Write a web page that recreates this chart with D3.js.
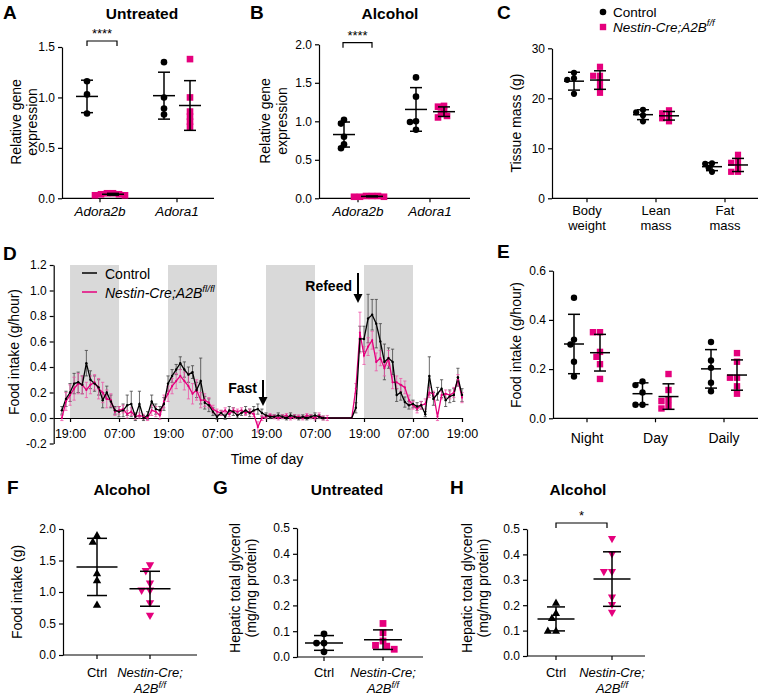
<!DOCTYPE html>
<html><head><meta charset="utf-8">
<script src="https://d3js.org/d3.v7.min.js"></script>
<style>html,body{margin:0;padding:0;background:#fff}svg{display:block}</style>
</head><body>
<svg id="chart" width="760" height="697" xmlns="http://www.w3.org/2000/svg"></svg>
<script>
// ---------------- DATA ----------------
const geneCats = ["Adora2b", "Adora1"];
const untreatedCtrl = [[1.16, 1.03, 0.84], [1.35, 1.0, 0.89, 0.83]];
const untreatedKO = [[0.05, 0.04, 0.03, 0.05, 0.04, 0.03], [1.38, 1.0, 0.86, 0.81, 0.76, 0.71]];
const alcoholCtrl = [[1.02, 0.97, 0.80, 0.70, 0.65], [1.57, 1.32, 1.0, 0.99, 0.89]];
const alcoholKO = [[0.03, 0.02, 0.03, 0.02, 0.03, 0.02], [1.2, 1.19, 1.14, 1.1, 1.07, 1.05]];

const massCats = [["Body", "weight"], ["Lean", "mass"], ["Fat", "mass"]];
const massCtrl = [[25.1, 24.0, 23.7, 20.9], [17.7, 17.2, 16.6, 15.4], [7.0, 6.9, 6.1, 5.3]];
const massKO = [[26.3, 24.5, 24.5, 23.3, 22.2, 21.1], [17.6, 17.0, 16.5, 16.0, 15.4], [8.7, 7.3, 7.1, 6.3, 5.3, 5.3]];

const periodCats = ["Night", "Day", "Daily"];
const periodCtrl = [[0.49, 0.32, 0.30, 0.23, 0.17], [0.15, 0.135, 0.105, 0.055, 0.055], [0.31, 0.235, 0.205, 0.145, 0.11]];
const periodKO = [[0.35, 0.35, 0.27, 0.25, 0.22, 0.16], [0.18, 0.115, 0.075, 0.07, 0.05, 0.04], [0.265, 0.23, 0.165, 0.165, 0.13, 0.1]];

const groupCats = ["Ctrl", "Nestin-Cre;"];
const foodAlcCtrl = [1.9, 1.8, 1.3, 1.19, 0.8];
const foodAlcKO = [1.42, 1.33, 1.13, 1.02, 1.02, 0.82, 0.62];
const tgUntrCtrl = [0.09, 0.054, 0.054, 0.02];
const tgUntrKO = [0.13, 0.094, 0.062, 0.045, 0.042, 0.03];
const tgAlcCtrl = [0.21, 0.17, 0.15, 0.10, 0.10];
const tgAlcKO = [0.46, 0.40, 0.33, 0.33, 0.23, 0.20, 0.17];

// Panel D: hourly food intake, hours from 19:00 of first night
const hours = d3.range(-2, 97);
const ctrlIntake = [
  0.06,0.15,0.20,0.27,0.28,0.26,0.43,0.30,0.27,0.24,0.14,0.20,
  0.13,0.06,0.05,0.06,0.10,0.11,0.01,0.11,0.00,0.02,0.13,0.07,
  0.06,0.11,0.27,0.33,0.38,0.43,0.38,0.34,0.36,0.22,0.29,0.12,
  0.10,0.05,0.01,0.04,0.01,0.06,0.05,0.02,0.04,0.06,0.04,0.06,
  0.07,0.04,0.02,0.01,0.01,0.02,0.01,0.00,0.02,0.01,0.00,0.01,
  0.00,0.01,0.02,0.01,0.00,0.00,0.00,0.00,0.00,0.00,0.00,0.00,
  0.08,0.62,0.62,0.78,0.81,0.74,0.60,0.44,0.47,0.44,0.18,0.20,
  0.125,0.10,0.11,0.09,0.10,0.03,0.33,0.15,0.19,0.23,0.14,0.17,
  0.18,0.32,0.18];
const ctrlSem = [
  0.03,0.06,0.07,0.08,0.08,0.07,0.10,0.07,0.06,0.06,0.06,0.05,
  0.05,0.03,0.04,0.05,0.08,0.10,0.03,0.10,0.02,0.03,0.05,0.04,
  0.03,0.05,0.06,0.05,0.04,0.05,0.06,0.06,0.05,0.06,0.18,0.05,
  0.05,0.03,0.02,0.02,0.02,0.03,0.03,0.02,0.02,0.03,0.03,0.03,
  0.04,0.03,0.02,0.015,0.015,0.02,0.015,0.015,0.02,0.015,0.015,0.015,
  0.015,0.015,0.02,0.015,0.015,null,null,null,null,null,null,null,
  0.04,0.10,0.10,0.19,0.12,0.19,0.14,0.14,0.08,0.10,0.05,0.06,
  0.04,0.03,0.03,0.03,0.03,0.02,0.15,0.05,0.05,0.07,0.05,0.05,
  0.05,0.07,0.05];
const koIntake = [
  0.00,0.13,0.18,0.23,0.27,0.26,0.22,0.26,0.28,0.23,0.20,0.15,
  0.14,0.05,0.06,0.07,0.03,0.05,0.01,0.02,0.01,0.00,0.06,0.05,
  0.02,0.13,0.19,0.25,0.29,0.33,0.29,0.25,0.19,0.22,0.14,0.14,
  0.12,0.07,0.05,0.04,0.06,0.03,0.06,0.05,0.06,0.04,0.05,0.03,
  -0.07,0.00,0.01,0.02,0.01,0.00,0.01,0.02,0.00,0.01,0.01,0.00,
  0.02,0.01,0.00,0.02,0.00,0.00,0.00,0.00,0.00,0.00,0.00,0.00,
  0.23,0.67,0.49,0.56,0.61,0.44,0.47,0.39,0.47,0.28,0.28,0.26,
  0.24,0.14,0.10,0.07,0.10,0.11,0.20,0.19,0.01,0.18,0.19,0.18,
  0.20,0.30,0.16];
const koSem = [
  0.02,0.07,0.08,0.09,0.08,0.07,0.06,0.07,0.06,0.08,0.08,0.07,
  0.05,0.03,0.03,0.03,0.03,0.03,0.02,0.02,0.02,0.02,0.04,0.04,
  0.03,0.05,0.06,0.06,0.06,0.05,0.07,0.10,0.08,0.08,0.06,0.05,
  0.04,0.03,0.02,0.02,0.02,0.02,0.02,0.02,0.02,0.02,0.02,0.02,
  0.04,0.02,0.015,0.015,0.015,0.015,0.015,0.015,0.015,0.015,0.015,0.015,
  0.015,0.015,0.015,0.02,0.015,0.02,null,null,null,null,null,null,
  0.04,0.16,0.07,0.07,0.07,0.07,0.06,0.06,0.06,0.05,0.05,0.05,
  0.05,0.04,0.03,0.03,0.03,0.04,0.04,0.02,0.03,0.03,0.03,0.03,
  0.04,0.04,0.04];
const timeTicks = [0, 12, 24, 36, 48, 60, 72, 84, 96];
const timeLabels = ["19:00","07:00","19:00","07:00","19:00","07:00","19:00","07:00","19:00"];
const darkPeriods = [[0, 12], [24, 36], [48, 60], [72, 84]];
const intakeTicks = [-0.2, 0, 0.2, 0.4, 0.6, 0.8, 1.0, 1.2];

// ---------------- HELPERS ----------------
const FONT = '"Liberation Sans", Arial, Helvetica, sans-serif';
const PINK = "#e5007d";
const svg = d3.select("#chart");

function text(x, y, str, o = {}) {
  const t = svg.append("text").attr("font-family", FONT).attr("font-size", o.size || 13)
    .attr("font-weight", o.weight || "normal").attr("font-style", o.style || "normal")
    .attr("text-anchor", o.anchor || "middle").attr("fill", "#000");
  if (o.rotate) t.attr("transform", `translate(${x},${y}) rotate(-90)`).attr("dy", "0.35em");
  else t.attr("x", x).attr("y", y);
  t.text(str);
  return t;
}
function supText(x, y, base, sup, o = {}) {
  const size = o.size || 13;
  const t = svg.append("text").attr("font-family", FONT).attr("font-size", size)
    .attr("font-style", o.style || "italic").attr("text-anchor", o.anchor || "middle")
    .attr("x", x).attr("y", y).attr("fill", "#000");
  t.append("tspan").text(base);
  t.append("tspan").attr("dy", -size * 0.42).attr("font-size", size * 0.7).text(sup);
  return t;
}
function styleAxis(sel, fs) {
  sel.attr("font-family", FONT).attr("font-size", fs);
  sel.select(".domain").attr("stroke", "#000").attr("stroke-width", 1.2);
  sel.selectAll(".tick line").attr("stroke", "#000").attr("stroke-width", 1.2);
  sel.selectAll(".tick text").attr("fill", "#000");
}
function shape(kind, x, y, s, color) {
  if (kind === "circle") svg.append("circle").attr("cx", x).attr("cy", y).attr("r", s / 2).attr("fill", color);
  else if (kind === "square") svg.append("rect").attr("x", x - s / 2).attr("y", y - s / 2).attr("width", s).attr("height", s).attr("fill", color);
  else if (kind === "up") svg.append("path").attr("d", `M${x},${y - 0.55 * s}L${x + 0.55 * s},${y + 0.42 * s}L${x - 0.55 * s},${y + 0.42 * s}Z`).attr("fill", color);
  else svg.append("path").attr("d", `M${x},${y + 0.55 * s}L${x + 0.55 * s},${y - 0.42 * s}L${x - 0.55 * s},${y - 0.42 * s}Z`).attr("fill", color);
}
function swarm(ys, cx, size, fac, step) {
  const idx = d3.range(ys.length).sort((a, b) => ys[a] - ys[b]);
  const placed = [], xs = [];
  idx.forEach(i => {
    for (let k = 0; k < 40; k++) {
      const off = k === 0 ? 0 : (k % 2 ? -1 : 1) * Math.ceil(k / 2) * step;
      const px = cx + off;
      if (k === 39 || placed.every(p => Math.hypot(p[0] - px, p[1] - ys[i]) >= size * fac)) {
        xs[i] = px; placed.push([px, ys[i]]); break;
      }
    }
  });
  return xs;
}
function dotPanel(o) {
  const y = d3.scaleLinear().domain(o.dom).range([o.yBot, o.yTop]);
  const x = d3.scalePoint().domain(d3.range(o.ncat)).range(o.catRange);
  const ga = svg.append("g").attr("transform", `translate(${o.ax},0)`)
    .call(d3.axisLeft(y).tickValues(o.ticks).tickFormat(o.fmt).tickSize(4).tickSizeOuter(0).tickPadding(3));
  styleAxis(ga, 12);
  svg.append("line").attr("x1", o.ax).attr("x2", o.ax2).attr("y1", o.yBot).attr("y2", o.yBot)
    .attr("stroke", "#000").attr("stroke-width", 1.2);
  d3.range(o.ncat).forEach(i => {
    svg.append("line").attr("x1", x(i)).attr("x2", x(i)).attr("y1", o.yBot).attr("y2", o.yBot + 4)
      .attr("stroke", "#000").attr("stroke-width", 1.2);
    o.label(i, x(i));
  });
  o.groups.forEach(gr => {
    gr.data.forEach((vals, ci) => {
      if (!vals || vals.length === 0) return;
      const cx = x(ci) + gr.off;
      const ys = vals.map(v => y(v));
      const xs = swarm(ys, cx, o.size, o.fac || 0.8, o.step || o.size * 0.55);
      vals.forEach((v, i) => shape(gr.shape, xs[i], ys[i], o.size, gr.color));
      const m = d3.mean(vals), sd = d3.deviation(vals);
      const L = (x1, y1, x2, y2) => svg.append("line").attr("x1", x1).attr("y1", y1).attr("x2", x2).attr("y2", y2)
        .attr("stroke", "#000").attr("stroke-width", 1.5);
      L(cx - o.meanW / 2, y(m), cx + o.meanW / 2, y(m));
      L(cx, y(m - sd), cx, y(m + sd));
      L(cx - o.capW / 2, y(m - sd), cx + o.capW / 2, y(m - sd));
      L(cx - o.capW / 2, y(m + sd), cx + o.capW / 2, y(m + sd));
    });
  });
  return { x, y };
}
function bracket(x1, x2, y, label, ly) {
  svg.append("path").attr("d", `M${x1},${y + 5}V${y}H${x2}V${y + 5}`).attr("fill", "none")
    .attr("stroke", "#000").attr("stroke-width", 1.2);
  text((x1 + x2) / 2, ly, label, { size: 13 });
}
const f1 = d => d.toFixed(1);

// ---------------- PANEL A ----------------
text(3, 19, "A", { size: 19, weight: "bold", anchor: "start" });
text(142, 19, "Untreated", { size: 15.5, weight: "bold" });
text(16, 122, "Relative gene", { size: 14, rotate: true });
text(32, 122, "expression", { size: 14, rotate: true });
dotPanel({ ax: 62, ax2: 214, yTop: 47, yBot: 198.3, dom: [0, 1.5], ticks: [0, 0.5, 1, 1.5], fmt: f1,
  ncat: 2, catRange: [100, 177], size: 6.6, meanW: 22, capW: 12, fac: 0.6, step: 3,
  groups: [{ data: untreatedCtrl, shape: "circle", color: "#000", off: -13 },
           { data: untreatedKO, shape: "square", color: PINK, off: 13 }],
  label: (i, cx) => text(cx, 216, geneCats[i], { size: 13.5, style: "italic" }) });
bracket(87, 117, 41, "****", 38);

// ---------------- PANEL B ----------------
text(250, 19, "B", { size: 19, weight: "bold", anchor: "start" });
text(390, 19, "Alcohol", { size: 15.5, weight: "bold" });
text(265, 121, "Relative gene", { size: 14, rotate: true });
text(282, 121, "expression", { size: 14, rotate: true });
dotPanel({ ax: 319, ax2: 470, yTop: 44.3, yBot: 198.3, dom: [0, 2], ticks: [0, 0.5, 1, 1.5, 2], fmt: f1,
  ncat: 2, catRange: [358, 430], size: 6.6, meanW: 22, capW: 12, fac: 0.6, step: 3,
  groups: [{ data: alcoholCtrl, shape: "circle", color: "#000", off: -14 },
           { data: alcoholKO, shape: "square", color: PINK, off: 14 }],
  label: (i, cx) => text(cx, 216, geneCats[i], { size: 13.5, style: "italic" }) });
bracket(343, 372, 42.7, "****", 39.5);

// ---------------- PANEL C ----------------
text(497, 19, "C", { size: 19, weight: "bold", anchor: "start" });
text(516, 123, "Tissue mass (g)", { size: 14, rotate: true });
dotPanel({ ax: 552, ax2: 758, yTop: 48.3, yBot: 198.3, dom: [0, 30], ticks: [0, 10, 20, 30], fmt: d => d,
  ncat: 3, catRange: [587, 725], size: 6.2, meanW: 20, capW: 12, fac: 0.8,
  groups: [{ data: massCtrl, shape: "circle", color: "#000", off: -13 },
           { data: massKO, shape: "square", color: PINK, off: 13 }],
  label: (i, cx) => { text(cx, 215, massCats[i][0], { size: 13 }); text(cx, 230, massCats[i][1], { size: 13 }); } });
shape("circle", 603, 12, 6.6, "#000");
shape("square", 603, 27, 6.4, PINK);
text(613, 17, "Control", { size: 13.5, anchor: "start" });
supText(613, 32, "Nestin-Cre;A2B", "f/f", { size: 13.5, anchor: "start" });

// ---------------- PANEL D ----------------
text(3, 260, "D", { size: 19, weight: "bold", anchor: "start" });
text(14, 352, "Food intake (g/hour)", { size: 14, rotate: true });
const xD = d3.scaleLinear().domain([-4, 96]).range([53.7, 462]);
const yD = d3.scaleLinear().domain([-0.2, 1.2]).range([443.5, 265]);
darkPeriods.forEach(p => svg.append("rect").attr("x", xD(p[0])).attr("width", xD(p[1]) - xD(p[0]))
  .attr("y", yD(1.2)).attr("height", yD(0) - yD(1.2)).attr("fill", "#d9d9d9"));
const gyD = svg.append("g").attr("transform", `translate(${xD(-4)},0)`)
  .call(d3.axisLeft(yD).tickValues(intakeTicks).tickFormat(f1).tickSize(4).tickSizeOuter(0).tickPadding(3));
styleAxis(gyD, 12);
const gxD = svg.append("g").attr("transform", `translate(0,${yD(0)})`)
  .call(d3.axisBottom(xD).tickValues(timeTicks).tickFormat((d, i) => timeLabels[i]).tickSize(4).tickSizeOuter(0).tickPadding(7));
styleAxis(gxD, 12.5);
text(267, 464, "Time of day", { size: 14 });

function series(vals, sem, barColor) {
  const pts = hours.map((h, i) => ({ h, v: vals[i], e: sem[i] }));
  pts.filter(p => p.e != null).forEach(p => {
    const x = xD(p.h);
    const g = svg.append("g").attr("stroke", barColor).attr("stroke-width", 0.8);
    g.append("line").attr("x1", x).attr("x2", x).attr("y1", yD(p.v - p.e)).attr("y2", yD(p.v + p.e));
    g.append("line").attr("x1", x - 1.6).attr("x2", x + 1.6).attr("y1", yD(p.v - p.e)).attr("y2", yD(p.v - p.e));
    g.append("line").attr("x1", x - 1.6).attr("x2", x + 1.6).attr("y1", yD(p.v + p.e)).attr("y2", yD(p.v + p.e));
  });
  return pts;
}
const ctrlPts = series(ctrlIntake, ctrlSem, "#444");
const koPts = series(koIntake, koSem, "#ee55a8");
const lineD = d3.line().x(p => xD(p.h)).y(p => yD(p.v));
svg.append("path").attr("d", lineD(koPts)).attr("fill", "none").attr("stroke", PINK).attr("stroke-width", 1.3);
svg.append("path").attr("d", lineD(ctrlPts)).attr("fill", "none").attr("stroke", "#000").attr("stroke-width", 1.3);
koPts.filter(p => p.e != null).forEach(p => svg.append("circle").attr("cx", xD(p.h)).attr("cy", yD(p.v)).attr("r", 1.1).attr("fill", PINK));
ctrlPts.filter(p => p.e != null).forEach(p => svg.append("circle").attr("cx", xD(p.h)).attr("cy", yD(p.v)).attr("r", 1.2).attr("fill", "#000"));
// legend
svg.append("line").attr("x1", 82).attr("x2", 97).attr("y1", 273).attr("y2", 273).attr("stroke", "#000").attr("stroke-width", 1.5);
text(105, 278.5, "Control", { size: 14, anchor: "start" });
svg.append("line").attr("x1", 82).attr("x2", 97).attr("y1", 292).attr("y2", 292).attr("stroke", PINK).attr("stroke-width", 1.5);
supText(105, 298, "Nestin-Cre;A2B", "fl/fl", { size: 14, anchor: "start" });
// annotations
function arrow(x, y1, y2) {
  svg.append("line").attr("x1", x).attr("x2", x).attr("y1", y1).attr("y2", y2 - 7).attr("stroke", "#000").attr("stroke-width", 2);
  svg.append("path").attr("d", `M${x - 4.5},${y2 - 9}L${x + 4.5},${y2 - 9}L${x},${y2}Z`).attr("fill", "#000");
}
text(257, 393, "Fast", { size: 14, weight: "bold", anchor: "end" });
arrow(263, 380, 406);
text(352, 291, "Refeed", { size: 14, weight: "bold", anchor: "end" });
arrow(358, 273, 303);

// ---------------- PANEL E ----------------
text(497, 258, "E", { size: 19, weight: "bold", anchor: "start" });
text(516, 345, "Food intake (g/hour)", { size: 14, rotate: true });
dotPanel({ ax: 553, ax2: 758, yTop: 270.7, yBot: 418.3, dom: [0, 0.6], ticks: [0, 0.2, 0.4, 0.6], fmt: f1,
  ncat: 3, catRange: [587, 724], size: 6.4, meanW: 20, capW: 12, fac: 0.8,
  groups: [{ data: periodCtrl, shape: "circle", color: "#000", off: -13 },
           { data: periodKO, shape: "square", color: PINK, off: 13 }],
  label: (i, cx) => text(cx, 443, periodCats[i], { size: 14 }) });

// ---------------- PANELS F, G, H ----------------
function groupLabels(i, cx) {
  if (i === 0) text(cx, 677, groupCats[0], { size: 13 });
  else {
    text(cx, 677, groupCats[1], { size: 13, style: "italic" });
    supText(cx, 693, "A2B", "f/f", { size: 13 });
  }
}
text(7, 494, "F", { size: 19, weight: "bold", anchor: "start" });
text(122, 495, "Alcohol", { size: 15.5, weight: "bold" });
text(17, 592, "Food intake (g)", { size: 14, rotate: true });
dotPanel({ ax: 63, ax2: 197, yTop: 529, yBot: 655, dom: [0, 2], ticks: [0, 0.5, 1, 1.5, 2], fmt: f1,
  ncat: 2, catRange: [97, 150], size: 7.6, meanW: 41, capW: 20, fac: 0.85,
  groups: [{ data: [foodAlcCtrl, []], shape: "up", color: "#000", off: 0 },
           { data: [[], foodAlcKO], shape: "down", color: PINK, off: 0 }],
  label: groupLabels });

text(213, 494, "G", { size: 19, weight: "bold", anchor: "start" });
text(347, 495, "Untreated", { size: 15.5, weight: "bold" });
text(235, 588, "Hepatic total glycerol", { size: 14, rotate: true });
text(251, 588, "(mg/mg protein)", { size: 14, rotate: true });
dotPanel({ ax: 297, ax2: 423, yTop: 528, yBot: 657, dom: [0, 0.5], ticks: [0, 0.1, 0.2, 0.3, 0.4, 0.5], fmt: f1,
  ncat: 2, catRange: [324, 383], size: 6.8, meanW: 38, capW: 20, fac: 0.85,
  groups: [{ data: [tgUntrCtrl, []], shape: "circle", color: "#000", off: 0 },
           { data: [[], tgUntrKO], shape: "square", color: PINK, off: 0 }],
  label: groupLabels });

text(450, 494, "H", { size: 19, weight: "bold", anchor: "start" });
text(578, 495, "Alcohol", { size: 15.5, weight: "bold" });
text(467, 588, "Hepatic total glycerol", { size: 14, rotate: true });
text(483, 588, "(mg/mg protein)", { size: 14, rotate: true });
dotPanel({ ax: 527, ax2: 645, yTop: 529, yBot: 656, dom: [0, 0.5], ticks: [0, 0.1, 0.2, 0.3, 0.4, 0.5], fmt: f1,
  ncat: 2, catRange: [556, 612], size: 7.4, meanW: 37, capW: 18, fac: 0.85,
  groups: [{ data: [tgAlcCtrl, []], shape: "up", color: "#000", off: 0 },
           { data: [[], tgAlcKO], shape: "down", color: PINK, off: 0 }],
  label: groupLabels });
bracket(556, 607, 523, "*", 520);
</script></body></html>
